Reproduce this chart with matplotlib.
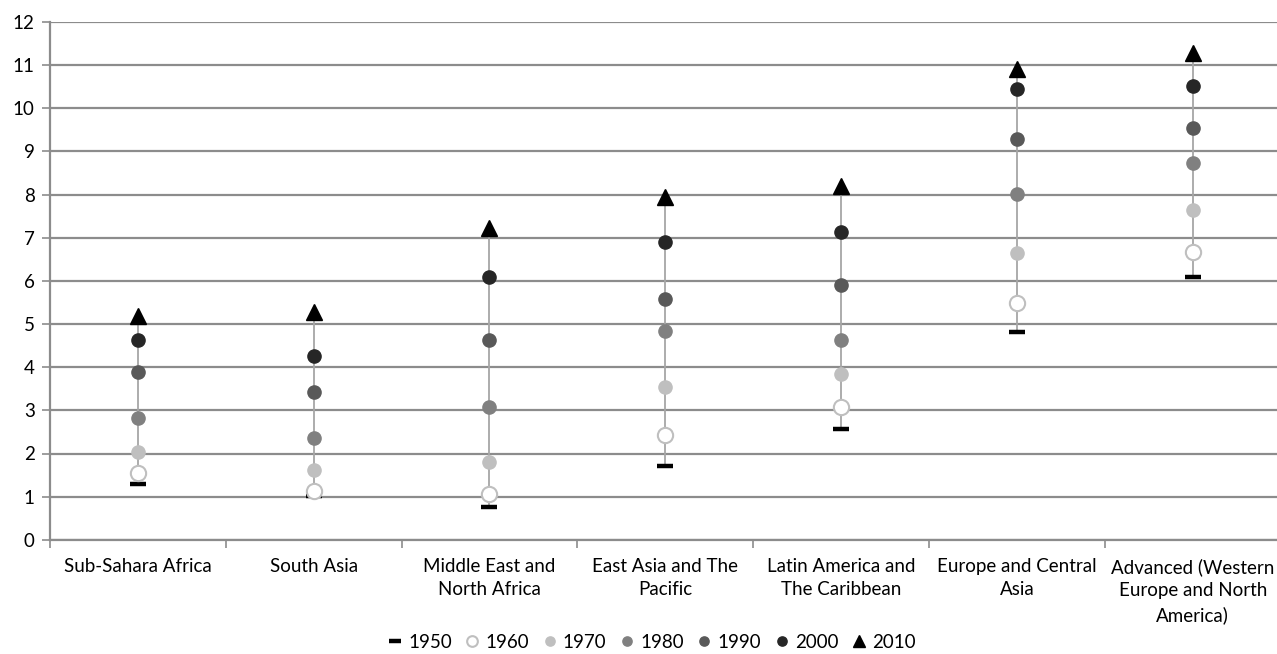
import numpy as np
import matplotlib
matplotlib.use("Agg")
import matplotlib.pyplot as plt

plt.rcParams['font.family'] = ['Lato', 'DejaVu Sans']

regions = ["Sub-Sahara Africa", "South Asia", "Middle East and\nNorth Africa",
           "East Asia and The\nPacific", "Latin America and\nThe Caribbean",
           "Europe and Central\nAsia", "Advanced (Western\nEurope and North\nAmerica)"]

# average years of schooling by decade
y1950 = [1.29, 1.02, 0.77, 1.71, 2.56, 4.81, 6.09]
y1960 = [1.54, 1.14, 1.06, 2.42, 3.08, 5.49, 6.68]
y1970 = [2.03, 1.62, 1.81, 3.54, 3.84, 6.64, 7.64]
y1980 = [2.82, 2.36, 3.07, 4.83, 4.63, 8.02, 8.74]
y1990 = [3.88, 3.43, 4.64, 5.59, 5.90, 9.30, 9.55]
y2000 = [4.63, 4.26, 6.09, 6.91, 7.13, 10.45, 10.51]
y2010 = [5.18, 5.28, 7.23, 7.94, 8.19, 10.90, 11.29]

x = np.arange(len(regions))

fig = plt.figure(figsize=(12.77, 6.54), dpi=100)
ax = fig.add_axes([50/1277, (654-539.8)/654, 1230.6/1277, 517.8/654])

# high-low lines
ax.vlines(x, y1950, y2010, color='#a6a6a6', lw=1.3, zorder=2)

ax.plot(x, y1950, ls='none', marker='_', ms=12, mew=3.2, color='black', zorder=3, label='1950')
ax.plot(x, y1960, ls='none', marker='o', ms=11, mfc='white', mec='#bfbfbf', mew=1.5, zorder=4, label='1960')
ax.plot(x, y1970, ls='none', marker='o', ms=9.5, color='#bfbfbf', zorder=4, label='1970')
ax.plot(x, y1980, ls='none', marker='o', ms=9.5, color='#808080', zorder=4, label='1980')
ax.plot(x, y1990, ls='none', marker='o', ms=9.5, color='#595959', zorder=4, label='1990')
ax.plot(x, y2000, ls='none', marker='o', ms=9.5, color='#262626', zorder=4, label='2000')
ax.plot(x, y2010, ls='none', marker='^', ms=12, color='black', zorder=5, label='2010')

ax.set_ylim(0, 12)
ax.set_xlim(-0.5, len(regions) - 0.5)
ax.set_yticks(range(0, 13))
ax.yaxis.grid(True, color='#8c8c8c', lw=1.6)
ax.set_axisbelow(True)

ax.set_xticks(x)
ax.set_xticklabels(regions, fontsize=13.5, linespacing=1.45)
ax.set_xticks(np.arange(-0.5, len(regions), 1), minor=True)
ax.tick_params(axis='x', which='major', length=0, pad=13)
ax.tick_params(axis='x', which='minor', length=6, color='#8c8c8c', width=1.2)
ax.tick_params(axis='y', length=6, color='#8c8c8c', width=1.2, labelsize=13.5, pad=5)

for s in ['top', 'right']:
    ax.spines[s].set_visible(False)
for s in ['left', 'bottom']:
    ax.spines[s].set_color('#8c8c8c')
    ax.spines[s].set_linewidth(1.6)

handles, labels = ax.get_legend_handles_labels()
leg = fig.legend(handles, labels, loc='lower center', bbox_to_anchor=(0.511, -0.021), ncol=7,
                 frameon=False, fontsize=13.5, handlelength=0.6, handletextpad=0.4,
                 columnspacing=0.8, markerscale=0.7)

fig.savefig("out.png", dpi=100)
